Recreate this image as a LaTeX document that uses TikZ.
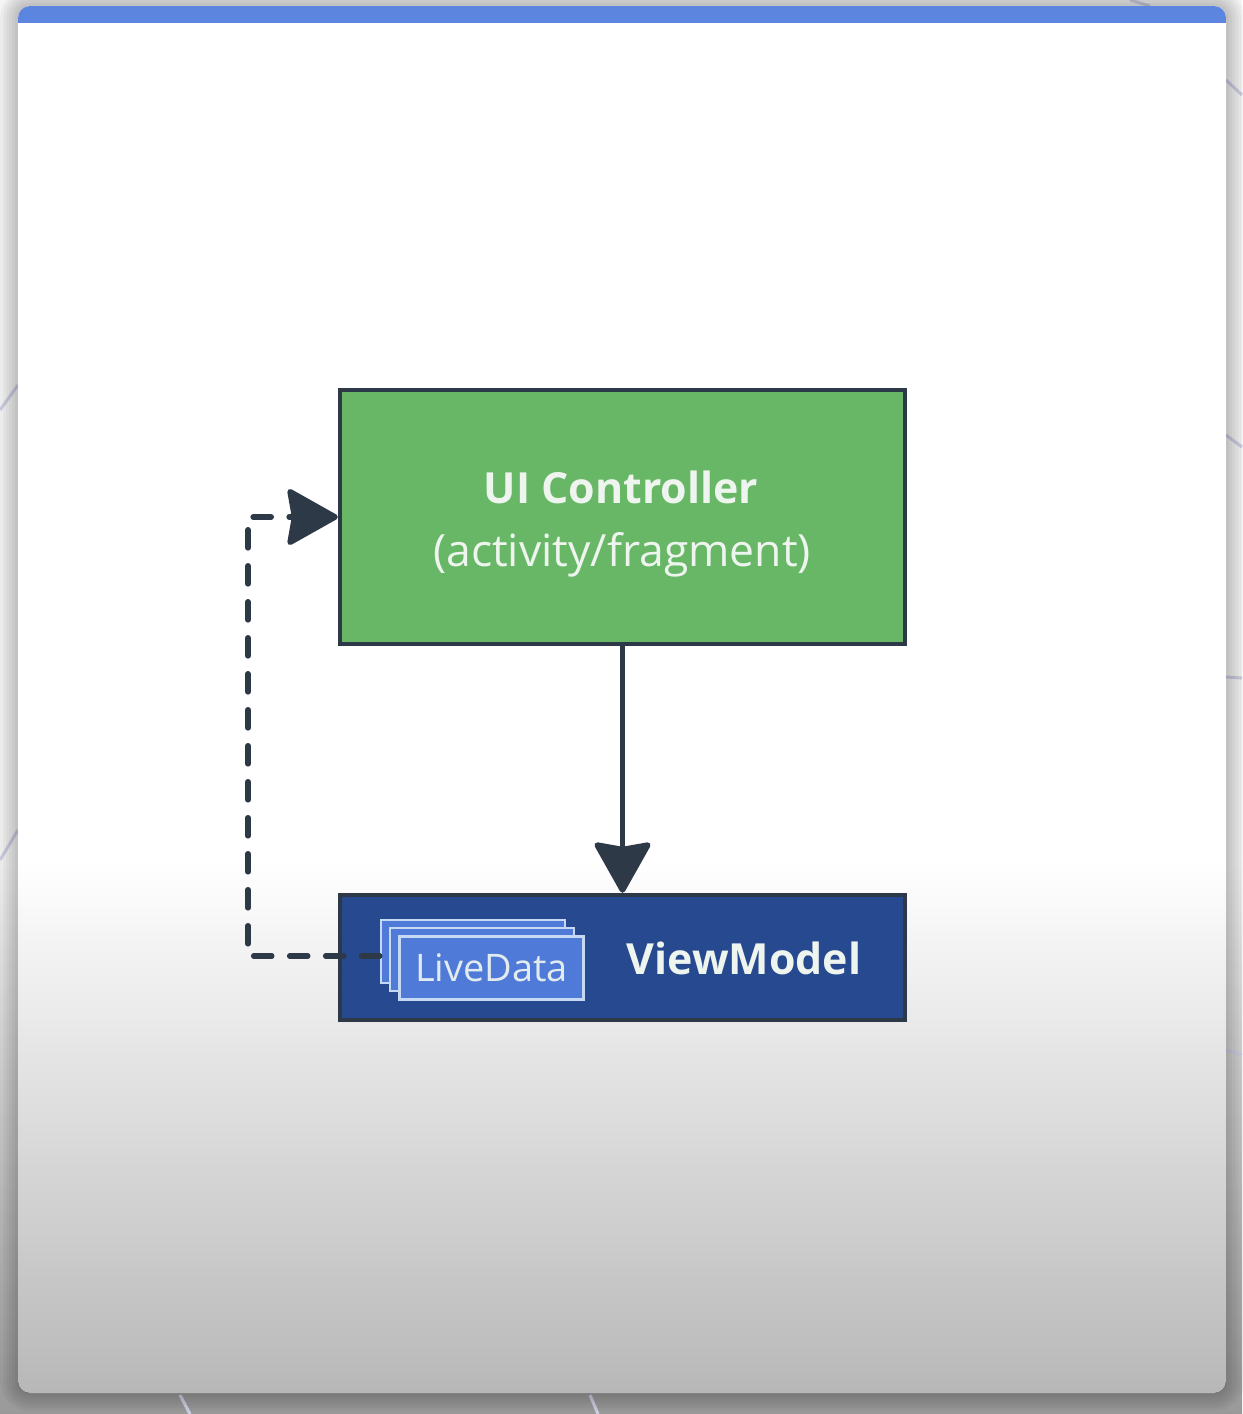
\documentclass[tikz,border=0pt]{standalone}
\usepackage{fontspec}
\setmainfont{Open Sans}
\usepackage{xcolor}
\usetikzlibrary{positioning,arrows.meta}
\definecolor{ink}{HTML}{2E3947}
\definecolor{leaf}{HTML}{67B766}
\definecolor{navy}{HTML}{26498F}
\definecolor{card}{HTML}{4F7AD8}
\definecolor{rim}{HTML}{C5D9F3}
\definecolor{bar}{HTML}{5B85DE}
\definecolor{txt}{HTML}{EEF4EE}
\definecolor{stray}{HTML}{CDCFE4}
\begin{document}
\begin{tikzpicture}[x=0.02cm,y=-0.02cm,
  b/.style={draw=ink,line width=4.5*0.02cm,minimum width=11.3cm},
  c/.style={draw=rim,fill=card,line width=2.6*0.02cm,minimum width=3.68cm,minimum height=1.26cm,inner sep=0pt},
  t/.style={text=txt,inner sep=0pt},
  l/.style={line width=5.6*0.02cm,draw=ink,line cap=round},
  >={Stealth[length=1.08cm,width=1.2cm,inset=0.1cm,round]}]
\useasboundingbox (0,0) rectangle (1242,1414);
\fill[white!92!gray] (0,0) rectangle (1242,860);
\fill[top color=white!92!gray,bottom color=gray!80] (0,860) rectangle (1242,1414);
\foreach \a/\b/\c/\d in {0/410/18/385, 0/860/18/830, 180/1395/190/1414, 590/1395/598/1414,
  1130/0/1150/6, 1226/80/1242/95, 1226/435/1242/447, 1226/677/1242/678, 1226/1050/1242/1055}
  \draw[stray,line width=3*0.02cm] (\a,\b)--(\c,\d);
\foreach \w in {36,30,24,18,12,6}
  \draw[black,opacity=0.035,line width=\w*0.02cm,rounded corners=0.24cm] (18,6) rectangle (1226,1393);
\begin{scope}
  \clip[rounded corners=0.24cm] (18,6) rectangle (1226,1393);
  \fill[white] (18,6) rectangle (1226,860);
  \fill[top color=white,bottom color=white!72!black] (18,860) rectangle (1226,1393);
  \fill[bar] (18,6) rectangle (1226,23);
\end{scope}
\node[b,fill=leaf,minimum height=5.08cm] (ui) at (622.5,517) {};
\node[t,font=\fontsize{24.4}{30}\selectfont\bfseries] (uititle) at (621,487) {UI Controller};
\node[t,font=\fontsize{25.3}{30}\selectfont] (uisub) at (622,555) {(activity/fragment)};
\node[b,fill=navy,minimum height=2.5cm] (vm) at (622.5,957.5) {};
\node[t,font=\fontsize{24.4}{30}\selectfont\bfseries] (vmtext) at (744,958) {ViewModel};
\coordinate (elbow) at (248,517);
\node[c] (ld1) at (473,951.5) {};
\node[c] (ld2) at (482,959.5) {};
\node[c,text=txt!70!rim,font=\fontsize{21.6}{26}\selectfont] (ld3) at (491.5,968) {LiveData};
\draw[l,dash pattern=on 0.36cm off 0.36cm,->] ([yshift=-0.09cm]ld1.west) -| (elbow) -- (ui.west);
\draw[l,->] (ui.south) -- (vm.north);
\end{tikzpicture}
\end{document}
